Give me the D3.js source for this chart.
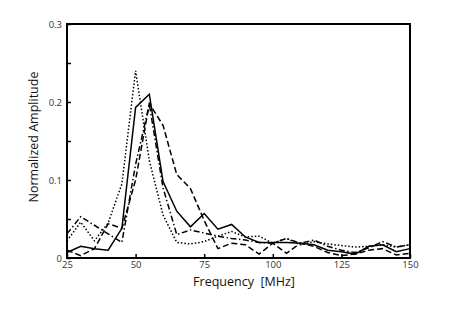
<!DOCTYPE html>
<html><head><meta charset="utf-8">
<script src="https://cdn.jsdelivr.net/npm/d3@7"></script>
<style>body{margin:0;background:#fff}svg{display:block}</style>
</head><body>
<script>
const freqs = [25,30,35,40,45,50,55,60,65,70,75,80,85,90,95,100,105,110,115,120,125,130,135,140,145,150];
const solid   = [0.007,0.015,0.012,0.010,0.038,0.193,0.210,0.098,0.060,0.040,0.057,0.037,0.043,0.027,0.020,0.020,0.020,0.019,0.017,0.010,0.008,0.005,0.015,0.017,0.008,0.012];
const dashed  = [0.010,0.003,0.012,0.044,0.038,0.100,0.198,0.170,0.107,0.089,0.048,0.012,0.019,0.017,0.005,0.019,0.006,0.019,0.015,0.007,0.003,0.005,0.010,0.012,0.004,0.006];
const dotted  = [0.022,0.046,0.022,0.045,0.095,0.240,0.125,0.055,0.020,0.018,0.021,0.028,0.034,0.027,0.028,0.019,0.025,0.017,0.021,0.018,0.016,0.014,0.015,0.017,0.014,0.017];
const dashdot = [0.031,0.053,0.042,0.031,0.020,0.120,0.197,0.090,0.030,0.036,0.032,0.028,0.025,0.023,0.020,0.019,0.025,0.019,0.023,0.015,0.010,0.007,0.013,0.021,0.014,0.017];
const xTicks = [25,50,75,100,125,150];
const yTicks = [0,0.1,0.2,0.3];
const yMinor = [0.05,0.15,0.25];

const W=450,H=332;
const m={l:67,r:40,t:24,b:74};
const svg=d3.select("body").append("svg").attr("width",W).attr("height",H);
const x=d3.scaleLinear().domain([25,150]).range([m.l,W-m.r]);
const y=d3.scaleLinear().domain([0,0.3]).range([H-m.b,m.t]);

const series=[
 {v:solid,dash:null},
 {v:dashed,dash:"6,3"},
 {v:dotted,dash:"1.5,2"},
 {v:dashdot,dash:"6,2.5,1.5,2.5"}
];
const line=d3.line().x((d,i)=>x(freqs[i])).y(d=>y(d));
const g=svg.append("g");
series.forEach(s=>{
  g.append("path").datum(s.v).attr("d",line).attr("fill","none")
   .attr("stroke","#000").attr("stroke-width",1.5)
   .attr("stroke-dasharray",s.dash);
});

const ax=svg.append("g").attr("transform",`translate(0,${H-m.b})`)
 .call(d3.axisBottom(x).tickValues(xTicks).tickSize(-4).tickPadding(3).tickFormat(d3.format("d")));
const ay=svg.append("g").attr("transform",`translate(${m.l},0)`)
 .call(d3.axisLeft(y).tickValues(yTicks).tickSize(-4).tickPadding(5).tickFormat(d=>d===0?"0":d3.format(".1f")(d)));
svg.append("g").attr("transform",`translate(${m.l},0)`)
 .call(d3.axisLeft(y).tickValues(yMinor).tickSize(-4).tickFormat(""));
svg.selectAll(".domain").remove();
svg.selectAll(".tick line").attr("stroke","#000").attr("stroke-width",1.5);
svg.selectAll(".tick text").attr("font-family","Open Sans, sans-serif").attr("font-size",9.5).attr("fill","#333");

svg.append("rect").attr("x",m.l).attr("y",m.t).attr("width",W-m.r-m.l).attr("height",H-m.b-m.t)
 .attr("fill","none").attr("stroke","#000").attr("stroke-width",2);

svg.append("text").attr("x",244).attr("y",286).attr("text-anchor","middle")
 .attr("font-family","Open Sans, sans-serif").attr("font-size",12.5).attr("fill","#111")
 .attr("xml:space","preserve").text("Frequency  [MHz]");
svg.append("text").attr("transform",`translate(38,137) rotate(-90)`).attr("text-anchor","middle")
 .attr("font-family","Open Sans, sans-serif").attr("font-size",12.5).attr("fill","#111")
 .text("Normalized Amplitude");
</script>
</body></html>
